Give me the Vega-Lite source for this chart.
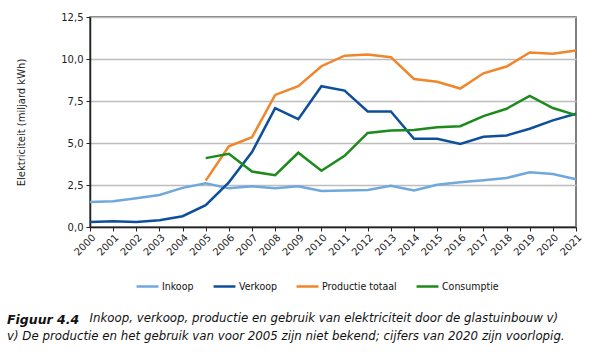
{
  "$schema": "https://vega.github.io/schema/vega-lite/v6.json",
  "width": 486,
  "height": 210,
  "autosize": "none",
  "padding": {"left": 90, "top": 17, "right": 24, "bottom": 128},
  "background": "white",
  "config": {
    "font": "DejaVu Sans",
    "view": {"stroke": "#555555", "strokeWidth": 1.5},
    "axis": {"labelFont": "DejaVu Sans", "titleFont": "DejaVu Sans", "labelColor": "#222222", "titleColor": "#222222"}
  },
  "title": {
    "text": "Figuur 4.4",
    "subtitle": ["\u200b\u00a0\u00a0\u00a0\u00a0\u00a0\u00a0\u00a0\u00a0\u00a0\u00a0\u00a0\u00a0\u00a0\u00a0\u00a0\u00a0\u00a0\u00a0\u00a0\u00a0\u00a0\u00a0Inkoop, verkoop, productie en gebruik van elektriciteit door de glastuinbouw v)", "v) De productie en het gebruik van voor 2005 zijn niet bekend; cijfers van 2020 zijn voorlopig."],
    "orient": "bottom",
    "anchor": "start",
    "frame": "group",
    "dx": -83,
    "offset": 22,
    "font": "DejaVu Sans",
    "fontSize": 12.5,
    "fontWeight": "bold",
    "fontStyle": "italic",
    "color": "#111111",
    "subtitleFont": "DejaVu Sans",
    "subtitleFontSize": 11.8,
    "subtitleFontStyle": "italic",
    "subtitleColor": "#111111",
    "subtitlePadding": -14,
    "subtitleLineHeight": 18
  },
  "data": {
    "values": [
      {"jaar": 2000, "reeks": "Inkoop", "waarde": 1.49},
      {"jaar": 2001, "reeks": "Inkoop", "waarde": 1.53},
      {"jaar": 2002, "reeks": "Inkoop", "waarde": 1.71},
      {"jaar": 2003, "reeks": "Inkoop", "waarde": 1.91},
      {"jaar": 2004, "reeks": "Inkoop", "waarde": 2.33},
      {"jaar": 2005, "reeks": "Inkoop", "waarde": 2.6},
      {"jaar": 2006, "reeks": "Inkoop", "waarde": 2.3},
      {"jaar": 2007, "reeks": "Inkoop", "waarde": 2.42},
      {"jaar": 2008, "reeks": "Inkoop", "waarde": 2.3},
      {"jaar": 2009, "reeks": "Inkoop", "waarde": 2.42},
      {"jaar": 2010, "reeks": "Inkoop", "waarde": 2.14},
      {"jaar": 2011, "reeks": "Inkoop", "waarde": 2.18},
      {"jaar": 2012, "reeks": "Inkoop", "waarde": 2.2},
      {"jaar": 2013, "reeks": "Inkoop", "waarde": 2.46},
      {"jaar": 2014, "reeks": "Inkoop", "waarde": 2.18},
      {"jaar": 2015, "reeks": "Inkoop", "waarde": 2.52},
      {"jaar": 2016, "reeks": "Inkoop", "waarde": 2.66},
      {"jaar": 2017, "reeks": "Inkoop", "waarde": 2.78},
      {"jaar": 2018, "reeks": "Inkoop", "waarde": 2.92},
      {"jaar": 2019, "reeks": "Inkoop", "waarde": 3.26},
      {"jaar": 2020, "reeks": "Inkoop", "waarde": 3.16},
      {"jaar": 2021, "reeks": "Inkoop", "waarde": 2.84},
      {"jaar": 2000, "reeks": "Verkoop", "waarde": 0.3},
      {"jaar": 2001, "reeks": "Verkoop", "waarde": 0.34},
      {"jaar": 2002, "reeks": "Verkoop", "waarde": 0.3},
      {"jaar": 2003, "reeks": "Verkoop", "waarde": 0.4},
      {"jaar": 2004, "reeks": "Verkoop", "waarde": 0.64},
      {"jaar": 2005, "reeks": "Verkoop", "waarde": 1.3},
      {"jaar": 2006, "reeks": "Verkoop", "waarde": 2.66},
      {"jaar": 2007, "reeks": "Verkoop", "waarde": 4.46},
      {"jaar": 2008, "reeks": "Verkoop", "waarde": 7.08},
      {"jaar": 2009, "reeks": "Verkoop", "waarde": 6.42},
      {"jaar": 2010, "reeks": "Verkoop", "waarde": 8.38},
      {"jaar": 2011, "reeks": "Verkoop", "waarde": 8.12},
      {"jaar": 2012, "reeks": "Verkoop", "waarde": 6.88},
      {"jaar": 2013, "reeks": "Verkoop", "waarde": 6.88},
      {"jaar": 2014, "reeks": "Verkoop", "waarde": 5.25},
      {"jaar": 2015, "reeks": "Verkoop", "waarde": 5.25},
      {"jaar": 2016, "reeks": "Verkoop", "waarde": 4.94},
      {"jaar": 2017, "reeks": "Verkoop", "waarde": 5.37},
      {"jaar": 2018, "reeks": "Verkoop", "waarde": 5.45},
      {"jaar": 2019, "reeks": "Verkoop", "waarde": 5.85},
      {"jaar": 2020, "reeks": "Verkoop", "waarde": 6.35},
      {"jaar": 2021, "reeks": "Verkoop", "waarde": 6.74},
      {"jaar": 2005, "reeks": "Productie totaal", "waarde": 2.76},
      {"jaar": 2006, "reeks": "Productie totaal", "waarde": 4.8},
      {"jaar": 2007, "reeks": "Productie totaal", "waarde": 5.34},
      {"jaar": 2008, "reeks": "Productie totaal", "waarde": 7.86},
      {"jaar": 2009, "reeks": "Productie totaal", "waarde": 8.38},
      {"jaar": 2010, "reeks": "Productie totaal", "waarde": 9.57},
      {"jaar": 2011, "reeks": "Productie totaal", "waarde": 10.2},
      {"jaar": 2012, "reeks": "Productie totaal", "waarde": 10.27},
      {"jaar": 2013, "reeks": "Productie totaal", "waarde": 10.11},
      {"jaar": 2014, "reeks": "Productie totaal", "waarde": 8.81},
      {"jaar": 2015, "reeks": "Productie totaal", "waarde": 8.65},
      {"jaar": 2016, "reeks": "Productie totaal", "waarde": 8.24},
      {"jaar": 2017, "reeks": "Productie totaal", "waarde": 9.15},
      {"jaar": 2018, "reeks": "Productie totaal", "waarde": 9.55},
      {"jaar": 2019, "reeks": "Productie totaal", "waarde": 10.39},
      {"jaar": 2020, "reeks": "Productie totaal", "waarde": 10.31},
      {"jaar": 2021, "reeks": "Productie totaal", "waarde": 10.51},
      {"jaar": 2005, "reeks": "Consumptie", "waarde": 4.1},
      {"jaar": 2006, "reeks": "Consumptie", "waarde": 4.36},
      {"jaar": 2007, "reeks": "Consumptie", "waarde": 3.3},
      {"jaar": 2008, "reeks": "Consumptie", "waarde": 3.08},
      {"jaar": 2009, "reeks": "Consumptie", "waarde": 4.42},
      {"jaar": 2010, "reeks": "Consumptie", "waarde": 3.35},
      {"jaar": 2011, "reeks": "Consumptie", "waarde": 4.24},
      {"jaar": 2012, "reeks": "Consumptie", "waarde": 5.6},
      {"jaar": 2013, "reeks": "Consumptie", "waarde": 5.74},
      {"jaar": 2014, "reeks": "Consumptie", "waarde": 5.78},
      {"jaar": 2015, "reeks": "Consumptie", "waarde": 5.94},
      {"jaar": 2016, "reeks": "Consumptie", "waarde": 6.0},
      {"jaar": 2017, "reeks": "Consumptie", "waarde": 6.6},
      {"jaar": 2018, "reeks": "Consumptie", "waarde": 7.04},
      {"jaar": 2019, "reeks": "Consumptie", "waarde": 7.8},
      {"jaar": 2020, "reeks": "Consumptie", "waarde": 7.08},
      {"jaar": 2021, "reeks": "Consumptie", "waarde": 6.66}
    ]
  },
  "mark": {"type": "line", "strokeWidth": 2.5, "strokeJoin": "miter"},
  "encoding": {
    "x": {
      "field": "jaar",
      "type": "quantitative",
      "scale": {"domain": [2000, 2021], "nice": false, "zero": false},
      "axis": {
        "values": [2000, 2001, 2002, 2003, 2004, 2005, 2006, 2007, 2008, 2009, 2010, 2011, 2012, 2013, 2014, 2015, 2016, 2017, 2018, 2019, 2020, 2021],
        "format": "d",
        "labelAngle": -45,
        "labelAlign": "right",
        "labelBaseline": "top",
        "labelFontSize": 10,
        "labelPadding": 1,
        "labelOverlap": false,
        "grid": false,
        "title": null,
        "domainColor": "#222222",
        "domainWidth": 1.5,
        "tickColor": "#222222",
        "tickSize": 4
      }
    },
    "y": {
      "field": "waarde",
      "type": "quantitative",
      "scale": {"domain": [0, 12.5], "nice": false},
      "axis": {
        "values": [0, 2.5, 5, 7.5, 10, 12.5],
        "labelExpr": "replace(format(datum.value, '.1f'), '.', ',')",
        "labelFontSize": 10,
        "labelPadding": 3,
        "title": "Elektriciteit (miljard kWh)",
        "titleFontSize": 10,
        "titleFontWeight": "normal",
        "titlePadding": 34,
        "grid": true,
        "gridColor": "#bdbdbd",
        "gridWidth": 1.5,
        "domainColor": "#222222",
        "domainWidth": 1.5,
        "tickColor": "#222222",
        "tickSize": 4
      }
    },
    "color": {
      "field": "reeks",
      "type": "nominal",
      "scale": {
        "domain": ["Inkoop", "Verkoop", "Productie totaal", "Consumptie"],
        "range": ["#6fa8dc", "#0e4f9c", "#f0862a", "#1c8a1c"]
      },
      "legend": {
        "title": null,
        "orient": "none",
        "direction": "horizontal",
        "legendX": 45,
        "legendY": 257,
        "symbolType": "stroke",
        "symbolSize": 480,
        "symbolStrokeWidth": 2.5,
        "labelFont": "DejaVu Sans Condensed",
        "labelFontSize": 10.5,
        "labelColor": "#111111",
        "labelOffset": 2,
        "columnPadding": 14
      }
    }
  }
}
